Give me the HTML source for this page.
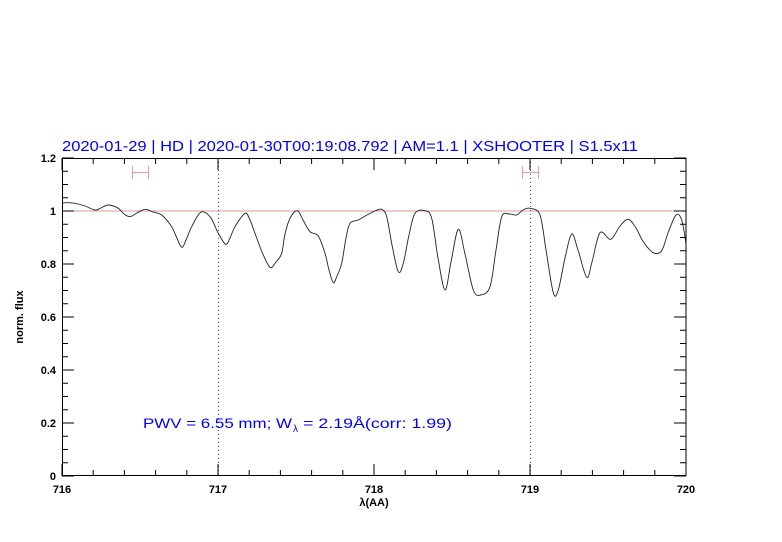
<!DOCTYPE html>
<html><head><meta charset="utf-8"><style>
html,body{margin:0;padding:0;background:#fff;}
svg{display:block;}
text{font-family:"Liberation Sans",sans-serif;}
</style></head><body>
<svg width="782" height="542" xmlns="http://www.w3.org/2000/svg">
<rect width="782" height="542" fill="#fff"/>
<text x="62" y="151" font-size="15" fill="#0000ff" textLength="576" lengthAdjust="spacingAndGlyphs">2020-01-29 | HD | 2020-01-30T00:19:08.792 | AM=1.1 | XSHOOTER | S1.5x11</text>
<line x1="62" y1="211" x2="686" y2="211" stroke="#d99" stroke-width="1"/>
<line x1="218.5" y1="158" x2="218.5" y2="476" stroke="#555" stroke-width="1" stroke-dasharray="1,3"/>
<line x1="530.5" y1="158" x2="530.5" y2="476" stroke="#555" stroke-width="1" stroke-dasharray="1,3"/>
<g stroke="#f49a9a" stroke-width="1" fill="none">
<path d="M132 172.5H148M132.5 166V179M148.5 166V179"/>
<path d="M522 172.5H538M522.5 166V179M538.5 166V179"/>
</g>
<path id="curve" fill="none" stroke="#222" stroke-width="0.9" stroke-linejoin="round" d=""/>
<rect x="62.5" y="158.5" width="623.5" height="317" fill="none" stroke="#000" stroke-width="1"/>
<g stroke="#000" stroke-width="1">
<path d="M62 476v-12M218 476v-12M374 476v-12M530 476v-12M686 476v-12
M62 158v12M218 158v12M374 158v12M530 158v12M686 158v12
M93.2 476v-6M124.4 476v-6M155.6 476v-6M186.8 476v-6M249.2 476v-6M280.4 476v-6M311.6 476v-6M342.8 476v-6M405.2 476v-6M436.4 476v-6M467.6 476v-6M498.8 476v-6M561.2 476v-6M592.4 476v-6M623.6 476v-6M654.8 476v-6
M93.2 158v6M124.4 158v6M155.6 158v6M186.8 158v6M249.2 158v6M280.4 158v6M311.6 158v6M342.8 158v6M405.2 158v6M436.4 158v6M467.6 158v6M498.8 158v6M561.2 158v6M592.4 158v6M623.6 158v6M654.8 158v6
M62 476h12M62 423h12M62 370h12M62 317h12M62 264h12M62 211h12M62 158h12
M686 476h-12M686 423h-12M686 370h-12M686 317h-12M686 264h-12M686 211h-12M686 158h-12
M62 462.75h6M62 449.5h6M62 436.25h6M62 409.75h6M62 396.5h6M62 383.25h6M62 356.75h6M62 343.5h6M62 330.25h6M62 303.75h6M62 290.5h6M62 277.25h6M62 250.75h6M62 237.5h6M62 224.25h6M62 197.75h6M62 184.5h6M62 171.25h6
M686 462.75h-6M686 449.5h-6M686 436.25h-6M686 409.75h-6M686 396.5h-6M686 383.25h-6M686 356.75h-6M686 343.5h-6M686 330.25h-6M686 303.75h-6M686 290.5h-6M686 277.25h-6M686 250.75h-6M686 237.5h-6M686 224.25h-6M686 197.75h-6M686 184.5h-6M686 171.25h-6"/>
</g>
<g font-size="11" fill="#000" font-weight="bold">
<text x="62" y="493" text-anchor="middle">716</text>
<text x="218" y="493" text-anchor="middle">717</text>
<text x="374" y="493" text-anchor="middle">718</text>
<text x="530" y="493" text-anchor="middle">719</text>
<text x="686" y="493" text-anchor="middle">720</text>
<text x="56" y="480" text-anchor="end">0</text>
<text x="56" y="427" text-anchor="end">0.2</text>
<text x="56" y="374" text-anchor="end">0.4</text>
<text x="56" y="321" text-anchor="end">0.6</text>
<text x="56" y="268" text-anchor="end">0.8</text>
<text x="56" y="215" text-anchor="end">1</text>
<text x="56" y="162" text-anchor="end">1.2</text>
<text x="374" y="506" text-anchor="middle">λ(AA)</text>
<text x="0" y="0" text-anchor="middle" transform="translate(23,317) rotate(-90)">norm. flux</text>
</g>
<g font-size="14" fill="#0000ff">
<text x="143" y="428" textLength="149" lengthAdjust="spacingAndGlyphs">PWV = 6.55 mm; W</text>
<text x="293" y="432" font-size="10">λ</text>
<text x="303" y="428" textLength="149" lengthAdjust="spacingAndGlyphs"> = 2.19Å(corr: 1.99)</text>
</g>
</svg>
<script>
var p=[[62,203],[66.7,202.7],[75,203.3],[85,206],[95,210],[101,208],[108.3,205],[118.3,208.3],[124,214],[130,216.7],[137,213],[145,209.3],[153,212],[161.7,215],[171.7,226.7],[176,236],[181.7,247.3],[186,240],[191.7,226.7],[200.7,212.3],[210,216.7],[218.3,233.3],[225.7,244.3],[230,238],[235,226.7],[245,213.3],[250,220],[255,233.3],[262,252],[270,267.3],[276,262],[281.7,253.3],[285,234],[290,218.3],[297.3,210.7],[303,220],[310,231.7],[318.3,236],[325,253.3],[329,270],[333.3,282.7],[337,276],[341.7,263.3],[346,238],[350,223.3],[358.3,220],[367,215],[375,211],[381.7,209.3],[386.7,216.7],[392,245],[398.3,271.7],[403.3,263.3],[409,235],[415,213.3],[425,210.7],[431.7,218.3],[438,258],[445,290],[451,262],[458.3,229.3],[465,254],[473.3,290],[480.7,295],[490,286.7],[496,250],[501.7,216.7],[509,214],[516.7,215],[523,210],[530,208.3],[540,215],[546,250],[553.3,292.7],[558.3,290],[565,258],[571.7,234],[578,250],[586.7,277.3],[592,262],[600,232.7],[610.7,239.3],[620,226],[628.3,219.3],[636,228],[643.3,241.7],[653.3,252.7],[661.7,250.7],[668,233],[676,215],[681.7,220],[686,243.3]];
var d="M"+p[0][0]+" "+p[0][1];
for(var i=0;i<p.length-1;i++){var a=p[i-1]||p[i],b=p[i],c=p[i+1],e=p[i+2]||c;
d+=" C"+(b[0]+(c[0]-a[0])/6).toFixed(2)+" "+(b[1]+(c[1]-a[1])/6).toFixed(2)+" "+(c[0]-(e[0]-b[0])/6).toFixed(2)+" "+(c[1]-(e[1]-b[1])/6).toFixed(2)+" "+c[0]+" "+c[1];}
document.getElementById("curve").setAttribute("d",d);
</script>
</body></html>
